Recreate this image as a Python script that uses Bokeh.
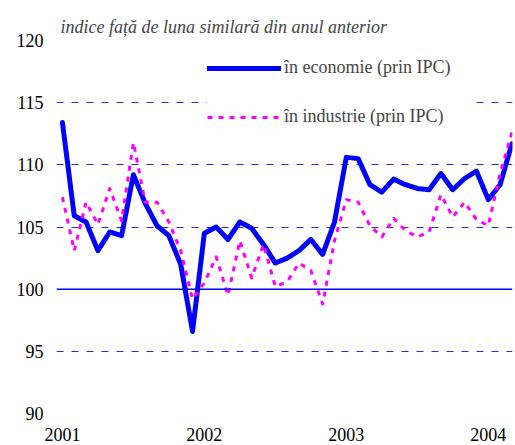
from bokeh.plotting import figure
from bokeh.models import Range1d, FixedTicker, Legend, LegendItem, Span
from bokeh.embed import file_html
from bokeh.resources import INLINE

# month index 0 = Jan 2001
months = list(range(39))
economie = [113.4, 105.9, 105.4, 103.1, 104.6, 104.3, 109.2, 106.9, 105.1, 104.3,
            102.0, 96.6, 104.5, 105.0, 104.0, 105.4, 104.9, 103.6, 102.1, 102.5,
            103.1, 104.0, 102.8, 105.4, 110.6, 110.5, 108.4, 107.8, 108.85, 108.4,
            108.1, 108.0, 109.3, 108.0, 108.9, 109.5, 107.2, 108.4, 111.7]
industrie = [107.4, 103.1, 107.0, 105.2, 108.1, 105.5, 111.8, 107.0, 107.0, 105.4,
             103.1, 99.2, 100.5, 102.6, 99.5, 103.9, 100.9, 103.6, 100.2, 100.6,
             102.1, 101.5, 98.8, 103.9, 107.2, 107.0, 105.1, 104.2, 105.7, 104.7,
             104.2, 104.6, 107.6, 105.8, 107.0, 105.6, 105.1, 109.3, 112.6]
year_ticks = [0, 12, 24, 36]
year_labels = ["2001", "2002", "2003", "2004"]
y_ticks = [90, 95, 100, 105, 110, 115, 120]
title_text = "indice față de luna similară din anul anterior"
label_econ = "în economie (prin IPC)"
label_ind = "în industrie (prin IPC)"

FONT = "Times New Roman"

p = figure(width=515, height=445, output_backend="svg", toolbar_location=None,
           x_range=Range1d(-0.5, 38.05), y_range=Range1d(90, 120),
           min_border_left=56, min_border_right=3, min_border_top=40,
           min_border_bottom=32)
p.outline_line_color = None
p.background_fill_color = "white"
p.border_fill_color = "white"

p.title.text = title_text
p.title.text_font = FONT
p.title.text_font_style = "italic"
p.title.text_font_size = "18px"
p.title.align = "left"
p.title.offset = 4
p.title.standoff = 8

# axes
p.xaxis.ticker = FixedTicker(ticks=year_ticks)
p.xaxis.major_label_overrides = {t: l for t, l in zip(year_ticks, year_labels)}
p.yaxis.ticker = FixedTicker(ticks=y_ticks)
for ax in (p.xaxis, p.yaxis):
    ax.axis_line_color = None
    ax.major_tick_line_color = None
    ax.minor_tick_line_color = None
    ax.major_tick_out = 0
    ax.major_tick_in = 0
    ax.major_label_text_font = FONT
    ax.major_label_text_font_size = "18px"
    ax.major_label_text_color = "black"
p.yaxis.major_label_standoff = 13
p.xaxis.major_label_standoff = 14

# grid
p.xgrid.grid_line_color = None
p.ygrid.ticker = FixedTicker(ticks=[90, 95, 105, 110, 115, 120])
p.ygrid.grid_line_color = "#0000ff"
p.ygrid.grid_line_width = 1
p.ygrid.grid_line_dash = "7 8"
p.ygrid.grid_line_alpha = 0.85
p.add_layout(Span(location=100, dimension="width", line_color="#0000ff", line_width=1.5))

r_econ = p.line(months, economie, line_color="#0000ff", line_width=5, line_join="round",
                line_cap="round")
r_ind = p.line(months, industrie, line_color="#ff00ff", line_width=3, line_dash="5 6",
               line_join="round")

legend = Legend(items=[LegendItem(label=label_econ, renderers=[r_econ]),
                       LegendItem(label=label_ind, renderers=[r_ind])],
                location=(151, 286), orientation="vertical",
                glyph_width=74, glyph_height=20, label_height=20, label_width=191,
                label_standoff=3, spacing=28, padding=10, margin=0,
                label_text_font=FONT, label_text_font_size="18px",
                border_line_color=None, background_fill_color="white",
                background_fill_alpha=1.0)
p.add_layout(legend)

open("out.html", "w").write(file_html(p, INLINE))
